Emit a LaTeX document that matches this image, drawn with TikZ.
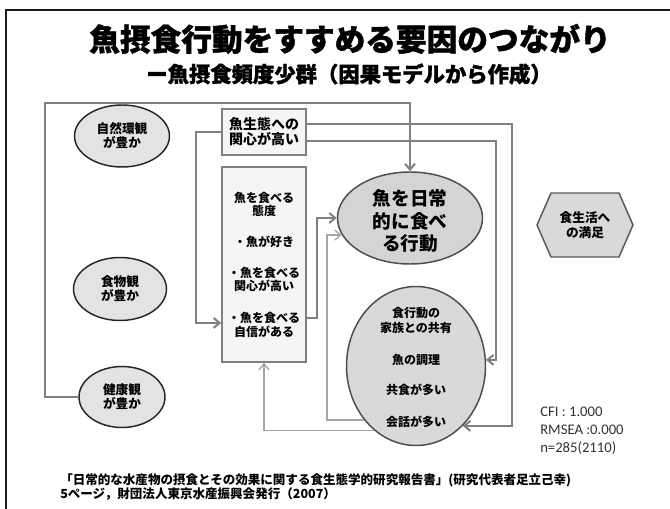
\documentclass[tikz,border=0pt]{standalone}
\usepackage{fontspec}
\setmainfont{Noto Sans CJK JP}
\newfontfamily\heavyfont{Noto Sans CJK JP}[BoldFeatures={FakeBold=1.3}]
\newfontfamily\statfont{Carlito}
\usetikzlibrary{shapes.geometric,arrows.meta}
\definecolor{linegray}{HTML}{808080}
\definecolor{lightline}{HTML}{A6A6A6}
\definecolor{ellfill}{HTML}{E3E3E3}
\definecolor{eatfill}{HTML}{D4D4D4}
\definecolor{famfill}{HTML}{D9D9D9}
\definecolor{boxfill}{HTML}{F5F5F5}
\definecolor{framecol}{HTML}{1A1A1A}
\begin{document}
\begin{tikzpicture}[x=0.75pt,y=-0.75pt,
  conn/.style={draw=linegray, line width=1.5pt, -{Straight Barb[length=4.5pt,width=7.5pt]}},
  thinconn/.style={draw=lightline, line width=1pt, -{Straight Barb[length=4.5pt,width=7.5pt]}},
  oval/.style={ellipse, draw=black!85, line width=1.1pt, fill=ellfill, inner sep=0pt, align=center,
    font=\bfseries\fontsize{9.5}{10.5}\selectfont},
  box/.style={rectangle, draw=linegray, line width=1.2pt, fill=boxfill, inner sep=0pt, align=center},
  bigoval/.style={ellipse, draw=black!70, line width=1.1pt, inner sep=0pt}]
\useasboundingbox (0,0) rectangle (670,509);
\draw[framecol, line width=1.5pt] (670,10) -- (6,10) -- (6,509);

\node[font=\heavyfont\bfseries\fontsize{23}{26}\selectfont] (title) at (350,39) {魚摂食行動をすすめる要因のつながり};
\node[font=\heavyfont\bfseries\fontsize{16}{18}\selectfont] (sub) at (349,74) {ー魚摂食頻度少群（因果モデルから作成）};

\node[oval, minimum width=71.25pt, minimum height=46.5pt] (nat) at (122,136) {自然環観\\が豊か};
\node[oval, minimum width=69.75pt, minimum height=47.25pt] (food) at (120,289) {食物観\\が豊か};
\node[oval, minimum width=64.5pt, minimum height=45.75pt] (health) at (122,397) {健康観\\が豊か};

\node[box, minimum width=63pt, minimum height=34.5pt, font=\bfseries\fontsize{10.5}{11.25}\selectfont] (eco) at (264,132) {魚生態への\\関心が高い};
\node[box, minimum width=63pt, minimum height=146.25pt, font=\bfseries\fontsize{9}{10}\selectfont] (att) at (264,264.5)
  {魚を食べる\\態度\\[13.5pt]・魚が好き\\[13pt]・魚を食べる\\関心が高い\\[14pt]・魚を食べる\\自信がある};

\node[bigoval, fill=eatfill, minimum width=108.75pt, minimum height=69pt] (eat) at (410,218) {};
\node[align=center, font=\bfseries\fontsize{14}{17}\selectfont] (eattext) at (410,221) {魚を日常\\的に食べ\\る行動};

\node[bigoval, fill=famfill, minimum width=104.25pt, minimum height=119.25pt] (fam) at (416,366) {};
\node[align=center, font=\bfseries\fontsize{9}{11.25}\selectfont] (famtext) at (416,367.5)
  {食行動の\\家族との共有\\[12.5pt]魚の調理\\[11.5pt]共食が多い\\[12.5pt]会話が多い};

\draw[fill=famfill, draw=black!65, line width=1.1pt] (537,225) -- (551,193) -- (619,193) -- (633,225) -- (619,257) -- (551,257) -- cycle;
\node[align=center, font=\bfseries\fontsize{9.5}{11}\selectfont] (sat) at (585,225) {食生活へ\\の満足};

% connectors
\coordinate (topy) at (45,103);
\draw[conn] (health.west) -| (topy) -| (eat.north);
\coordinate (c2) at (196,323);
\draw[conn] (eco.west) -| (c2) -- (c2 -| att.west);
\coordinate (c3) at (317,318);
\draw[conn] (c3 -| att.east) -- (c3) |- (eat.west);
\coordinate (x327) at (327,0);
\draw[thinconn] (fam.226) -- (fam.226 -| x327) |- (eat.194);
\draw[thinconn] (fam.237) -| (att.south);
\coordinate (c6) at (512,124);
\draw[conn] (c6 -| eco.east) -- (c6) |- (fam.308);
\coordinate (c7) at (496,141);
\draw[conn] (c7 -| eco.east) -- (c7) |- (fam.5);

\node[anchor=north west, align=left, inner sep=0pt, text=black!80, font=\statfont\fontsize{11}{13.5}\selectfont] (fit) at (540,407)
  {CFI : 1.000\\RMSEA :0.000\\n=285(2110)};

\node[anchor=west, inner sep=0pt, font=\bfseries\fontsize{9.4}{11}\selectfont] (ref1) at (60,480)
  {「日常的な水産物の摂食とその効果に関する食生態学的研究報告書」(研究代表者足立己幸)};
\node[anchor=west, inner sep=0pt, font=\bfseries\fontsize{9.4}{11}\selectfont] (ref2) at (60,494)
  {5ページ，財団法人東京水産振興会発行（2007）};
\end{tikzpicture}
\end{document}
